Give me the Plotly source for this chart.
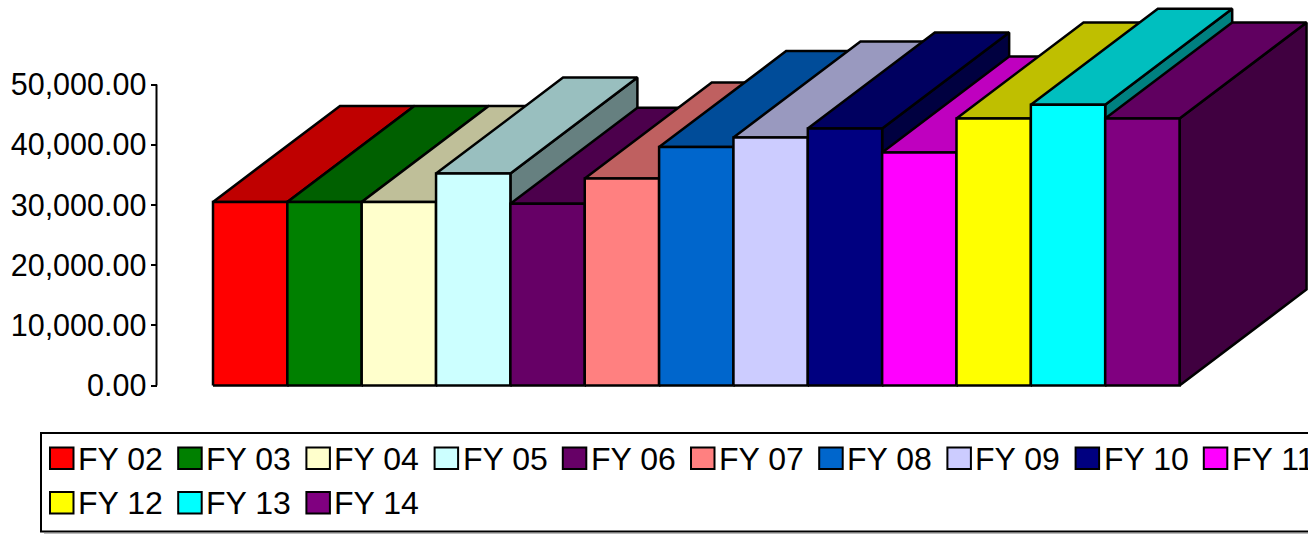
import plotly.graph_objects as go

categories = ["FY 02", "FY 03", "FY 04", "FY 05", "FY 06", "FY 07", "FY 08",
              "FY 09", "FY 10", "FY 11", "FY 12", "FY 13", "FY 14"]
values = [30500, 30500, 30500, 35200, 30200, 34400, 39600,
          41200, 42700, 38700, 44350, 46650, 44350]
colors = ["#FF0000", "#008000", "#FFFFCC", "#CCFFFF", "#660066", "#FF8080", "#0066CC",
          "#CCCCFF", "#000080", "#FF00FF", "#FFFF00", "#00FFFF", "#800080"]
y_ticks = [0, 10000, 20000, 30000, 40000, 50000]

W, H = 1308, 534
BAR_LEFT_PX, BAR_PX = 213.0, 74.35
ZERO_PX, PX_PER_UNIT = 385.5, 301.0 / 50000
DEPTH_X = 127.0 / BAR_PX
DEPTH_Y = 96.0 / PX_PER_UNIT
AXIS_X = (156.5 - BAR_LEFT_PX) / BAR_PX
FONT = "Liberation Sans, Arial, sans-serif"


def shade(hex_color, factor):
    r, g, b = (int(hex_color[i:i + 2], 16) for i in (1, 3, 5))
    return f"rgb({round(r * factor)},{round(g * factor)},{round(b * factor)})"


def face(xs, ys, fill, name):
    return go.Scatter(x=xs, y=ys, mode="lines", fill="toself", fillcolor=fill,
                      line=dict(color="black", width=2.5, simplify=False),
                      name=name, showlegend=False, hoverinfo="skip")


fig = go.Figure()
for i, (label, value, color) in enumerate(zip(categories, values, colors)):
    l, r = i, i + 1
    # side face
    fig.add_trace(face([r, r + DEPTH_X, r + DEPTH_X, r, r],
                       [0, DEPTH_Y, value + DEPTH_Y, value, 0],
                       shade(color, 0.5), label + " side"))
    # top face
    fig.add_trace(face([l, r, r + DEPTH_X, l + DEPTH_X, l],
                       [value, value, value + DEPTH_Y, value + DEPTH_Y, value],
                       shade(color, 0.75), label + " top"))
    # front face
    fig.add_trace(face([l, r, r, l, l], [0, 0, value, value, 0], color, label))

# value axis line, only spanning the labelled range
fig.add_trace(go.Scatter(x=[AXIS_X, AXIS_X], y=[y_ticks[0], y_ticks[-1]], mode="lines",
                         line=dict(color="black", width=2), showlegend=False,
                         hoverinfo="skip", name="axis"))

# legend, drawn in page coordinates so that the first row runs off the page
shapes = [
    dict(type="rect", xref="paper", yref="paper", x0=41 / W, x1=1330 / W,
         y0=1 - 531.5 / H, y1=1 - 433 / H, line=dict(color="black", width=2),
         fillcolor="white", layer="above"),
    dict(type="line", xref="paper", yref="paper", x0=44 / W, x1=1330 / W,
         y0=1 - 533 / H, y1=1 - 533 / H, line=dict(color="#777777", width=1), layer="above"),
]
annotations = []
PER_ROW = 10
for i, (label, color) in enumerate(zip(categories, colors)):
    col, row = i % PER_ROW, i // PER_ROW
    sx = 50 + col * 128.2
    top = 447.5 + row * 44.5
    shapes.append(dict(type="rect", xref="paper", yref="paper",
                       x0=sx / W, x1=(sx + 23.5) / W,
                       y0=1 - (top + 21.5) / H, y1=1 - top / H,
                       fillcolor=color, line=dict(color="black", width=2), layer="above"))
    annotations.append(dict(xref="paper", yref="paper", x=(sx + 26) / W, y=1 - (top + 11) / H,
                            text=label, showarrow=False, xanchor="left", yanchor="middle",
                            font=dict(family=FONT, size=32, color="black")))

fig.update_layout(
    width=W, height=H, autosize=False,
    margin=dict(l=0, r=0, t=0, b=0, pad=0),
    paper_bgcolor="white", plot_bgcolor="white",
    showlegend=False,
    shapes=shapes, annotations=annotations,
    xaxis=dict(visible=False, range=[-BAR_LEFT_PX / BAR_PX, (W - BAR_LEFT_PX) / BAR_PX],
               fixedrange=True),
    yaxis=dict(range=[(ZERO_PX - H) / PX_PER_UNIT, ZERO_PX / PX_PER_UNIT],
               anchor="free", position=156.5 / W, showline=False, showgrid=False,
               zeroline=False, tickmode="array", tickvals=y_ticks, tickformat=",.2f",
               ticks="outside", ticklen=6, tickwidth=2, tickcolor="black",
               ticklabelstandoff=-2,
               tickfont=dict(family=FONT, size=30.5, color="black"), fixedrange=True),
)

fig.write_html("out.html", config={"displayModeBar": False},
               post_script="document.body.style.margin='0';document.body.style.overflow='hidden';")
